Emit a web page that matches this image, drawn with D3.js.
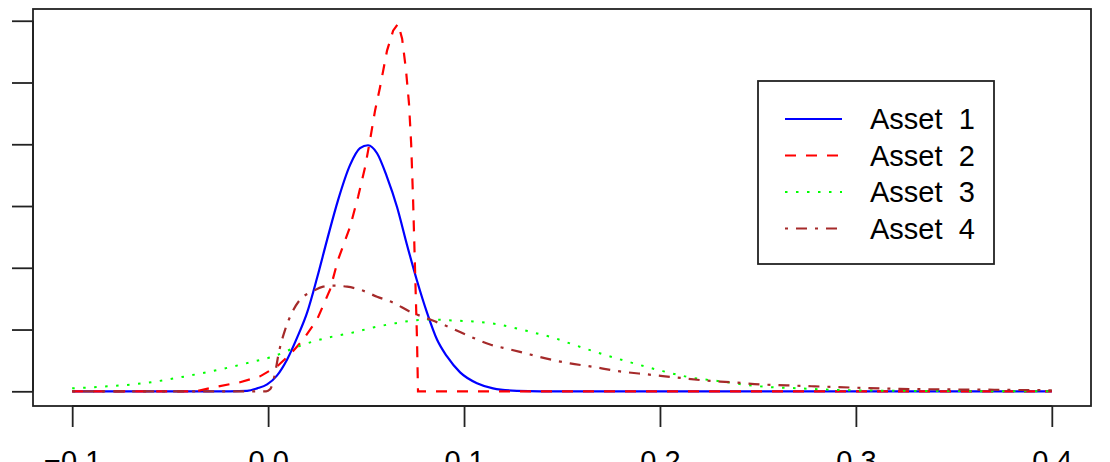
<!DOCTYPE html>
<html>
<head>
<meta charset="utf-8">
<script src="https://cdn.jsdelivr.net/npm/d3@7/dist/d3.min.js"></script>
<style>
  html, body { margin: 0; padding: 0; background: #fff; }
  svg { display: block; font-family: "Liberation Sans", Arial, sans-serif; }
</style>
</head>
<body>
<svg id="canvas" width="1110" height="462"></svg>
<script>
// densities, one x / y pair of arrays per asset
const asset1X = [-0.1, -0.0194, -0.0107, -0.0056, -0.0005, 0.0046, 0.0097, 0.0148, 0.0199, 0.025, 0.0301, 0.0357, 0.0418, 0.0469, 0.051, 0.0556, 0.0607, 0.0658, 0.0709, 0.076, 0.0811, 0.0862, 0.0913, 0.098, 0.1066, 0.1148, 0.127, 0.1388, 0.4]
const asset1Y = [0, 0, 0.04, 0.24, 0.56, 1.29, 2.58, 4.35, 6.37, 9.19, 12.26, 15.48, 18.31, 19.68, 19.92, 19.27, 17.34, 14.92, 11.85, 8.95, 6.37, 4.19, 2.82, 1.53, 0.65, 0.24, 0.04, 0, 0]

const asset2X = [-0.1, -0.0367, -0.0281, -0.0143, -0.0041, 0.0046, 0.0112, 0.0179, 0.025, 0.0316, 0.0357, 0.0418, 0.0459, 0.0495, 0.052, 0.0546, 0.0571, 0.0607, 0.0638, 0.0663, 0.0684, 0.0704, 0.0719, 0.073, 0.074, 0.075, 0.076, 0.0765, 0.4]
const asset2Y = [0, 0, 0.32, 0.73, 1.21, 2.02, 2.98, 4.19, 5.81, 8.23, 10.65, 13.31, 15.73, 18.15, 20.32, 22.74, 24.6, 27.58, 29.19, 29.76, 28.55, 25.97, 23.31, 20.08, 15.48, 9.84, 4.19, 0, 0]

const asset3X = [-0.1, -0.0821, -0.0638, -0.0449, -0.0245, -0.0092, 0.0026, 0.0128, 0.023, 0.0332, 0.0434, 0.0536, 0.0638, 0.074, 0.0842, 0.0944, 0.1046, 0.1148, 0.125, 0.1352, 0.1454, 0.1556, 0.1679, 0.1832, 0.2, 0.2153, 0.2306, 0.251, 0.2714, 0.2969, 0.348, 0.4]
const asset3Y = [0.24, 0.4, 0.65, 1.13, 1.77, 2.34, 2.82, 3.47, 4.03, 4.44, 4.76, 5.16, 5.48, 5.73, 5.81, 5.73, 5.65, 5.48, 5.16, 4.76, 4.35, 3.79, 3.15, 2.42, 1.69, 1.13, 0.81, 0.4, 0.24, 0.08, 0.02, 0]

const asset4X = [-0.1, -0.001, 0.001, 0.0031, 0.0056, 0.0087, 0.0122, 0.0163, 0.0224, 0.0281, 0.0332, 0.0403, 0.0469, 0.0556, 0.0638, 0.0724, 0.0827, 0.0929, 0.1031, 0.1133, 0.1235, 0.1337, 0.1439, 0.1541, 0.1643, 0.1796, 0.1934, 0.2077, 0.2219, 0.2367, 0.251, 0.2648, 0.2791, 0.3224, 0.3735, 0.4]
const asset4Y = [0, 0, 0.16, 1.13, 3.23, 5.0, 6.37, 7.42, 8.06, 8.47, 8.55, 8.47, 8.23, 7.66, 7.18, 6.45, 5.81, 5.16, 4.44, 3.79, 3.39, 2.98, 2.58, 2.26, 2.02, 1.61, 1.37, 1.13, 0.89, 0.73, 0.56, 0.48, 0.4, 0.2, 0.12, 0.08]

const seriesNames = ['Asset  1', 'Asset  2', 'Asset  3', 'Asset  4']
const xTicks = [-0.1, 0.0, 0.1, 0.2, 0.3, 0.4]
const yTicks = [0, 5, 10, 15, 20, 25, 30]

const styles = [
  { color: '#0000ff', dash: null, width: 2.2, curve: d3.curveMonotoneX },
  { color: '#ff0000', dash: '11,10', width: 2.2, curve: d3.curveLinear },
  { color: '#00ff00', dash: '2.5,8.5', width: 2, curve: d3.curveMonotoneX },
  { color: '#a52a2a', dash: '3,8,11,8', width: 2.2, curve: d3.curveMonotoneX }
]

const series = [
  [asset1X, asset1Y], [asset2X, asset2Y], [asset3X, asset3Y], [asset4X, asset4Y]
].map(([xs, ys], i) => ({
  name: seriesNames[i],
  style: styles[i],
  points: xs.map((x, j) => [x, ys[j]])
}))

const box = { left: 33, top: 9, right: 1091, bottom: 406 }
const tickLen = 21

// R-style 4% axis expansion around the data range
const xRange = [-0.1, 0.4]
const yRange = [0, d3.max(series, s => d3.max(s.points, p => p[1]))]
const pad = r => (r[1] - r[0]) * 0.04

const x = d3.scaleLinear()
  .domain([xRange[0] - pad(xRange), xRange[1] + pad(xRange)])
  .range([box.left, box.right])
const y = d3.scaleLinear()
  .domain([yRange[0] - pad(yRange), yRange[1] + pad(yRange)])
  .range([box.bottom, box.top])

const svg = d3.select('#canvas')

// curves
const line = d3.line().x(p => x(p[0])).y(p => y(p[1]))
svg.append('g').selectAll('path').data(series).enter().append('path')
  .attr('d', s => line.curve(s.style.curve)(s.points))
  .attr('fill', 'none')
  .attr('stroke', s => s.style.color)
  .attr('stroke-width', s => s.style.width)
  .attr('stroke-dasharray', s => s.style.dash)

// plot frame
svg.append('rect')
  .attr('x', box.left)
  .attr('y', box.top)
  .attr('width', box.right - box.left)
  .attr('height', box.bottom - box.top)
  .attr('fill', 'none')
  .attr('stroke', '#222')
  .attr('stroke-width', 1.8)

// x axis, labels sit low and are clipped by the bottom edge as in the original
const xAxis = svg.append('g')
  .attr('transform', `translate(0, ${box.bottom})`)
  .call(d3.axisBottom(x).tickValues(xTicks).tickSize(tickLen).tickSizeOuter(0).tickPadding(23)
    .tickFormat(d => d3.format('.1f')(d).replace('-', '\u2212')))
xAxis.select('.domain')
  .attr('d', `M${x(xTicks[0])},0H${x(xTicks[xTicks.length - 1])}`)
xAxis.selectAll('line, .domain').attr('stroke', '#222').attr('stroke-width', 1.8)
xAxis.selectAll('text')
  .attr('font-size', 29)
  .attr('font-family', '"Liberation Sans", Arial, sans-serif')
  .attr('fill', '#000')

// y axis (labels fall outside the picture, so only ticks)
const yAxis = svg.append('g')
  .attr('transform', `translate(${box.left}, 0)`)
  .call(d3.axisLeft(y).tickValues(yTicks).tickSize(tickLen).tickSizeOuter(0).tickFormat(''))
yAxis.select('.domain')
  .attr('d', `M0,${y(yTicks[0])}V${y(yTicks[yTicks.length - 1])}`)
yAxis.selectAll('line, .domain').attr('stroke', '#222').attr('stroke-width', 1.8)

// legend
const legend = { left: 758, top: 81, width: 236, height: 183, rowTop: 119, rowStep: 36.5 }
const lg = svg.append('g')
lg.append('rect')
  .attr('x', legend.left)
  .attr('y', legend.top)
  .attr('width', legend.width)
  .attr('height', legend.height)
  .attr('fill', '#fff')
  .attr('stroke', '#222')
  .attr('stroke-width', 1.8)
const row = lg.selectAll('.row').data(series).enter().append('g')
  .classed('row', true)
  .attr('transform', (s, i) => `translate(${legend.left}, ${legend.rowTop + i * legend.rowStep})`)
row.append('line')
  .attr('x1', 27)
  .attr('x2', 84)
  .attr('stroke', s => s.style.color)
  .attr('stroke-width', s => s.style.width)
  .attr('stroke-dasharray', s => s.style.dash)
row.append('text')
  .text(s => s.name)
  .attr('x', 112)
  .attr('dy', 10)
  .attr('font-size', 29)
  .style('white-space', 'pre')
  .attr('fill', '#000')
</script>
</body>
</html>
